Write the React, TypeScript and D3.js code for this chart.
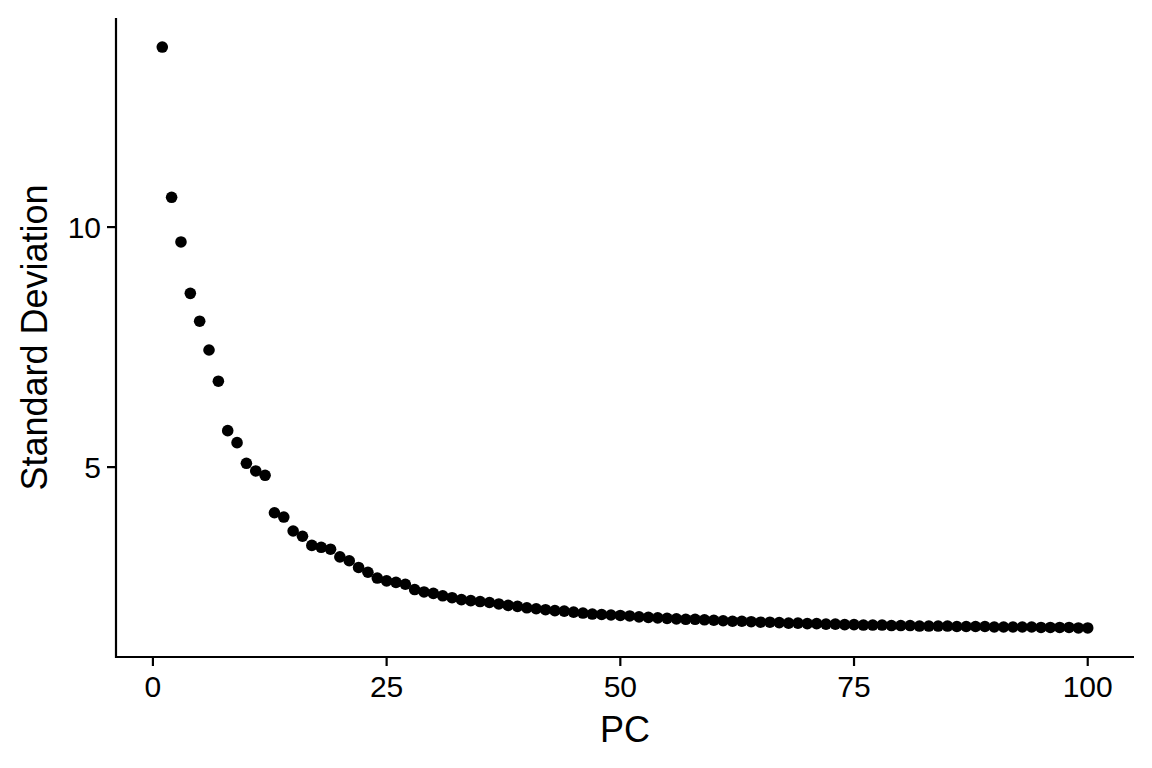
import React from "react";
import * as d3 from "d3";

const pcs: number[] = d3.range(1, 101);
const stdev: number[] = [
  13.75, 10.62, 9.69, 8.62, 8.04, 7.44, 6.79, 5.76, 5.51, 5.08,
  4.92, 4.83, 4.05, 3.96, 3.67, 3.56, 3.37, 3.33, 3.29, 3.13,
  3.05, 2.91, 2.81, 2.69, 2.63, 2.6, 2.56, 2.45, 2.4, 2.37,
  2.32, 2.28, 2.24, 2.22, 2.2, 2.18, 2.15, 2.12, 2.1, 2.07,
  2.05, 2.03, 2.01, 2.0, 1.98, 1.96, 1.94, 1.93, 1.92, 1.91,
  1.9, 1.88, 1.87, 1.86, 1.85, 1.84, 1.83, 1.83, 1.82, 1.81,
  1.8, 1.79, 1.79, 1.78, 1.77, 1.77, 1.76, 1.75, 1.75, 1.74,
  1.74, 1.73, 1.73, 1.72, 1.72, 1.71, 1.71, 1.71, 1.7, 1.7,
  1.7, 1.69, 1.69, 1.69, 1.69, 1.68, 1.68, 1.68, 1.68, 1.67,
  1.67, 1.67, 1.67, 1.67, 1.66, 1.66, 1.66, 1.66, 1.65, 1.65,
];
const xTicks: number[] = [0, 25, 50, 75, 100];
const yTicks: number[] = [5, 10];
const xTitle = "PC";
const yTitle = "Standard Deviation";

const W = 1152;
const H = 768;
const left = 116;
const right = 1134;
const top = 18;
const bottom = 657;
const font = "'Liberation Sans', Arial, Helvetica, sans-serif";

export default function App() {
  const xMin = d3.min(pcs)!;
  const xMax = d3.max(pcs)!;
  const xPad = (xMax - xMin) * 0.05;
  const yMin = d3.min(stdev)!;
  const yMax = d3.max(stdev)!;
  const yPad = (yMax - yMin) * 0.05;
  const x = d3.scaleLinear().domain([xMin - xPad, xMax + xPad]).range([left, right]);
  const y = d3.scaleLinear().domain([yMin - yPad, yMax + yPad]).range([bottom, top]);

  return (
    <svg width={W} height={H} style={{ position: "absolute", left: 0, top: 0, background: "#fff" }}>
      <rect x={0} y={0} width={W} height={H} fill="#fff" />
      {pcs.map((p, i) => (
        <circle key={p} cx={x(p)} cy={y(stdev[i])} r={5.8} fill="#000" />
      ))}
      <line x1={left} x2={left} y1={top} y2={bottom + 1} stroke="#000" strokeWidth={2.2} />
      <line x1={left - 1} x2={right} y1={bottom} y2={bottom} stroke="#000" strokeWidth={2.2} />
      {xTicks.map((t) => (
        <g key={t}>
          <line x1={x(t)} x2={x(t)} y1={bottom} y2={bottom + 9} stroke="#000" strokeWidth={2.2} />
          <text x={x(t)} y={bottom + 40} textAnchor="middle" fontFamily={font} fontSize={30} fill="#000">
            {t}
          </text>
        </g>
      ))}
      {yTicks.map((t) => (
        <g key={t}>
          <line x1={left - 9} x2={left} y1={y(t)} y2={y(t)} stroke="#000" strokeWidth={2.2} />
          <text x={left - 15} y={y(t)} dy="0.36em" textAnchor="end" fontFamily={font} fontSize={30} fill="#000">
            {t}
          </text>
        </g>
      ))}
      <text x={(left + right) / 2} y={742} textAnchor="middle" fontFamily={font} fontSize={36} fill="#000">
        {xTitle}
      </text>
      <text
        transform={`translate(47, ${(top + bottom) / 2}) rotate(-90)`}
        textAnchor="middle"
        fontFamily={font}
        fontSize={36}
        fill="#000"
      >
        {yTitle}
      </text>
    </svg>
  );
}
